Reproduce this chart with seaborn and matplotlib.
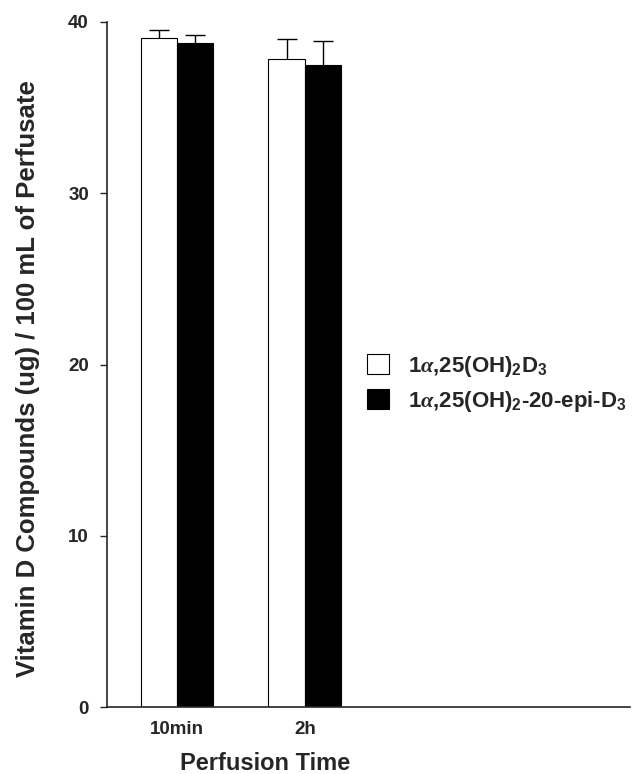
#!/usr/bin/env python3
"""
Vitamin D compounds in perfusate - grouped bar chart
"""

import pandas as pd
import numpy as np
import matplotlib
matplotlib.use('Agg')
import matplotlib.pyplot as plt
import seaborn as sns

# data
times = ['10min', '2h']
compounds = [r'1$\alpha$,25(OH)$_\mathrm{2}$D$_\mathrm{3}$',
             r'1$\alpha$,25(OH)$_\mathrm{2}$-20-epi-D$_\mathrm{3}$']
mean_calcitriol = [39.05, 37.85]
mean_epi = [38.75, 37.5]
err_calcitriol = [0.5, 1.15]
err_epi = [0.5, 1.4]
colors = ['white', 'black']

sns.set_style('ticks')
plt.rcParams['font.family'] = ['Liberation Sans', 'DejaVu Sans']
plt.rcParams['font.weight'] = 'bold'
plt.rcParams['mathtext.fontset'] = 'custom'
plt.rcParams['mathtext.rm'] = 'Liberation Sans:bold'
plt.rcParams['mathtext.bf'] = 'Liberation Sans:bold'
plt.rcParams['mathtext.it'] = 'Liberation Serif:italic'


def build_frame():
    rows = []
    for i, t in enumerate(times):
        rows.append({'time': t, 'compound': compounds[0], 'value': mean_calcitriol[i]})
        rows.append({'time': t, 'compound': compounds[1], 'value': mean_epi[i]})
    return pd.DataFrame(rows)


df = build_frame()

fig = plt.figure(figsize=(6.4, 7.74), dpi=100)
ax = fig.add_axes([107 / 640, 1 - 707 / 774, 523 / 640, 685 / 774])

sns.barplot(data=df, x='time', y='value', hue='compound', hue_order=compounds,
            palette=colors, edgecolor='black', linewidth=0.8, width=0.57,
            gap=0, errorbar=None, ax=ax)

# upper error bars only (lower half hidden behind bars)
for cont, errs in zip(ax.containers, [err_calcitriol, err_epi]):
    xs = [p.get_x() + p.get_width() / 2 for p in cont.patches]
    ys = [p.get_height() for p in cont.patches]
    ax.errorbar(xs, ys, yerr=errs, fmt='none', ecolor='black',
                elinewidth=1.0, capsize=7, capthick=1.0, zorder=0.5)

ax.set_ylim(0, 40)
ax.set_xlim(-0.547, 3.54)
ax.set_yticks([0, 10, 20, 30, 40])
ax.tick_params(axis='y', length=5, width=1, pad=8, labelsize=13.5)
ax.tick_params(axis='x', length=0, pad=10, labelsize=13.5)
for lab in ax.get_xticklabels() + ax.get_yticklabels():
    lab.set_fontweight('bold')

ax.set_ylabel('Vitamin D Compounds (ug) / 100 mL of Perfusate',
              fontsize=18.5, fontweight='bold')
ax.yaxis.set_label_coords(-0.128, 0.48)
ax.set_xlabel('Perfusion Time', fontsize=17, fontweight='bold')
ax.xaxis.set_label_coords(0.302, -0.066)

sns.despine(ax=ax)
for s in ['left', 'bottom']:
    ax.spines[s].set_linewidth(1.2)

handles, labels = ax.get_legend_handles_labels()
ax.get_legend().remove()
fig.legend(handles, labels, loc='upper left',
           bbox_to_anchor=(367 / 640, 1 - 354 / 774), frameon=False,
           prop={'size': 16, 'weight': 'bold'}, handlelength=1.0,
           handleheight=1.0, handletextpad=0.85, labelspacing=0.45,
           borderaxespad=0, borderpad=0)

fig.savefig('out.png', dpi=100)
